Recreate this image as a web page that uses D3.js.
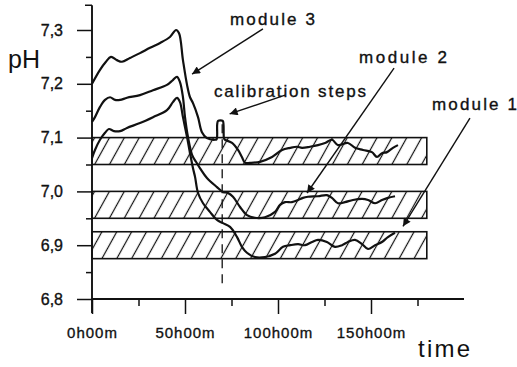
<!DOCTYPE html>
<html>
<head>
<meta charset="utf-8">
<script src="https://cdn.jsdelivr.net/npm/d3@7"></script>
<style>
  body { margin: 0; background: #fff; }
  svg { display: block; }
  text { font-family: "Liberation Sans", Arial, sans-serif; fill: #111; }
  .heavy { stroke: #111; stroke-width: 0.35px; }
</style>
</head>
<body>
<div id="chart"></div>
<script>
// time (h) / pH readings
const module3 = [
  [0, 7.200], [4.3, 7.226], [7.5, 7.241], [10.2, 7.250], [13.4, 7.244], [16.1, 7.241],
  [20.4, 7.248], [25.8, 7.257], [31.2, 7.267], [36.6, 7.276], [41.9, 7.287], [45.2, 7.300],
  [46.8, 7.294], [48.9, 7.244], [51.1, 7.198], [52.7, 7.175], [54.3, 7.164], [57.0, 7.138],
  [59.1, 7.110], [61.8, 7.099], [66.1, 7.096], [67.0, 7.097], [67.3, 7.124], [67.8, 7.131],
  [70.3, 7.131], [70.7, 7.124], [71.0, 7.098], [71.5, 7.096], [75.3, 7.090], [78.5, 7.077],
  [80.6, 7.064], [82.3, 7.053], [84.9, 7.053], [90.3, 7.055], [96.8, 7.064], [102.2, 7.077],
  [106.5, 7.081], [110.2, 7.083], [112.9, 7.081], [117.2, 7.083], [121.5, 7.086], [125.3, 7.090],
  [129.0, 7.096], [132.3, 7.086], [137.6, 7.090], [141.4, 7.081], [145.7, 7.077], [150.5, 7.073],
  [153.2, 7.064], [155.9, 7.071], [158.6, 7.073], [161.8, 7.081], [164.5, 7.086]
];
const module2 = [
  [0, 7.129], [1.6, 7.138], [4.3, 7.157], [7.0, 7.170], [9.7, 7.175], [12.4, 7.170],
  [15.1, 7.170], [18.8, 7.174], [25.8, 7.179], [32.8, 7.188], [40.3, 7.198], [43.5, 7.207],
  [45.7, 7.213], [47.3, 7.203], [48.9, 7.175], [50.0, 7.138], [51.6, 7.101], [53.8, 7.068],
  [55.9, 7.055], [58.1, 7.043], [61.8, 7.025], [67.2, 7.008], [70.4, 6.999], [73.1, 6.997],
  [75.8, 6.990], [79.6, 6.971], [83.3, 6.956], [87.6, 6.951], [93.0, 6.952], [98.4, 6.962],
  [101.1, 6.975], [103.8, 6.980], [107.5, 6.980], [110.8, 6.984], [113.4, 6.988], [116.1, 6.990],
  [121.5, 6.991], [126.3, 6.993], [129.0, 6.988], [132.3, 6.978], [136.0, 6.980], [140.3, 6.984],
  [145.2, 6.986], [148.4, 6.984], [152.2, 6.978], [155.9, 6.984], [159.1, 6.988], [162.9, 6.991]
];
const module1 = [
  [0, 7.062], [1.6, 7.077], [4.3, 7.096], [7.0, 7.109], [9.1, 7.116], [11.8, 7.112],
  [15.1, 7.112], [18.8, 7.118], [25.8, 7.127], [32.8, 7.138], [40.3, 7.151], [43.5, 7.166],
  [45.7, 7.174], [47.3, 7.166], [48.9, 7.138], [51.1, 7.101], [52.7, 7.071], [54.3, 7.043],
  [55.4, 7.027], [57.0, 6.997], [59.7, 6.978], [63.4, 6.962], [67.2, 6.947], [70.4, 6.941],
  [74.2, 6.934], [78.0, 6.915], [80.6, 6.897], [83.3, 6.886], [87.6, 6.878], [93.0, 6.878],
  [98.4, 6.884], [102.7, 6.897], [106.5, 6.900], [110.8, 6.902], [114.5, 6.900], [118.3, 6.906],
  [121.5, 6.910], [126.3, 6.906], [130.6, 6.897], [134.4, 6.900], [137.6, 6.906], [141.4, 6.910],
  [145.2, 6.902], [148.4, 6.893], [152.2, 6.900], [155.9, 6.906], [159.1, 6.915], [162.9, 6.923]
];

// target pH bands (low, high) and their time span
const bands = [[7.05, 7.10], [6.95, 7.00], [6.875, 6.925]];
const bandEnd = 180;
const calibTime = 70;

const yMajor = [6.8, 6.9, 7.0, 7.1, 7.2, 7.3];
const yMinor = [6.85, 6.95, 7.05, 7.15, 7.25];
const xMajor = [0, 50, 100, 150];
const xMinor = [25, 75, 125, 175];
const xLabels = ["0h00m", "50h00m", "100h00m", "150h00m"];

const width = 517, height = 367;

const svg = d3.select("#chart").append("svg")
  .attr("width", width)
  .attr("height", height);

const x = d3.scaleLinear().domain([0, 200]).range([92, 464]);
const y = d3.scaleLinear().domain([6.8, 7.3]).range([299, 30]);

const defs = svg.append("defs");
const hatch = defs.append("pattern")
  .attr("id", "hatch")
  .attr("patternUnits", "userSpaceOnUse")
  .attr("width", 13).attr("height", 13)
  .attr("patternTransform", "rotate(29)");
hatch.append("rect").attr("width", 13).attr("height", 13).attr("fill", "#fff");
hatch.append("line")
  .attr("x1", 6.5).attr("y1", 0).attr("x2", 6.5).attr("y2", 13)
  .attr("stroke", "#111").attr("stroke-width", 1.2);

defs.append("marker")
  .attr("id", "arrow")
  .attr("viewBox", "0 0 10 10")
  .attr("refX", 10).attr("refY", 5)
  .attr("markerWidth", 12).attr("markerHeight", 8)
  .attr("markerUnits", "userSpaceOnUse")
  .attr("orient", "auto")
  .append("path")
  .attr("d", "M0,0 L10,5 L0,10 Z")
  .attr("fill", "#111");

// bands
svg.append("g").selectAll("rect")
  .data(bands)
  .enter().append("rect")
  .attr("x", x(0))
  .attr("y", d => y(d[1]))
  .attr("width", x(bandEnd) - x(0))
  .attr("height", d => y(d[0]) - y(d[1]))
  .attr("fill", "url(#hatch)")
  .attr("stroke", "#111")
  .attr("stroke-width", 1.6);

// calibration marker
svg.append("line")
  .attr("x1", x(calibTime)).attr("x2", x(calibTime))
  .attr("y1", y(7.125)).attr("y2", y(6.82))
  .attr("stroke", "#111")
  .attr("stroke-width", 1.3)
  .attr("stroke-dasharray", "9,6");

// curves
const line = d3.line()
  .x(d => x(d[0]))
  .y(d => y(d[1]))
  .curve(d3.curveCatmullRom.alpha(0.5));

svg.append("g").selectAll("path")
  .data([module3, module2, module1])
  .enter().append("path")
  .attr("d", line)
  .attr("fill", "none")
  .attr("stroke", "#111")
  .attr("stroke-width", 2.2)
  .attr("stroke-linejoin", "round");

// axes
const fmt = d => d.toFixed(1).replace(".", ",");

const yAxis = svg.append("g")
  .attr("transform", `translate(${x(0)},0)`)
  .call(d3.axisLeft(y).tickValues(yMajor).tickSize(15).tickPadding(14).tickFormat(fmt));
yAxis.select(".domain").remove();
yAxis.selectAll("text").attr("class", "heavy").style("font-size", "16px").attr("font-family", null);

const yAxisMinor = svg.append("g")
  .attr("transform", `translate(${x(0)},0)`)
  .call(d3.axisLeft(y).tickValues(yMinor).tickSize(6).tickFormat(""));
yAxisMinor.select(".domain").remove();

const xAxis = svg.append("g")
  .attr("transform", `translate(0,${y(6.8)})`)
  .call(d3.axisBottom(x).tickValues(xMajor).tickSize(15).tickPadding(13)
    .tickFormat((d, i) => xLabels[i]));
xAxis.select(".domain").remove();
xAxis.selectAll("text")
  .attr("class", "heavy")
  .style("font-size", "15px")
  .style("letter-spacing", "1px")
  .attr("font-family", null);

const xAxisMinor = svg.append("g")
  .attr("transform", `translate(0,${y(6.8)})`)
  .call(d3.axisBottom(x).tickValues(xMinor).tickSize(7).tickFormat(""));
xAxisMinor.select(".domain").remove();

svg.selectAll(".tick line").attr("stroke", "#111").attr("stroke-width", 1.5);

svg.append("line")
  .attr("x1", x(0)).attr("x2", x(0))
  .attr("y1", y(7.346)).attr("y2", y(6.8) + 14)
  .attr("stroke", "#111").attr("stroke-width", 1.9);
svg.append("line")
  .attr("x1", x(0) - 7).attr("x2", x(0))
  .attr("y1", y(7.346)).attr("y2", y(7.346))
  .attr("stroke", "#111").attr("stroke-width", 1.5);
svg.append("line")
  .attr("x1", x(0)).attr("x2", x(200))
  .attr("y1", y(6.8)).attr("y2", y(6.8))
  .attr("stroke", "#111").attr("stroke-width", 1.9);

svg.append("text")
  .attr("x", 8).attr("y", 68)
  .style("font-size", "25px")
  .text("pH");

svg.append("text")
  .attr("x", 418).attr("y", 357)
  .style("font-size", "24px")
  .attr("textLength", 52)
  .text("time");

// annotations, placed in data units: label (t, pH), arrow from -> to
const notes = [
  { text: "module 3", at: [74.2, 7.309], w: 85, from: [91.9, 7.302], to: [53.8, 7.218] },
  { text: "calibration steps", at: [65.6, 7.175], w: 152, from: [103.8, 7.179], to: [74.0, 7.144] },
  { text: "module 2", at: [143.5, 7.239], w: 88, from: [162.4, 7.229], to: [115.6, 6.997] },
  { text: "module 1", at: [182.8, 7.151], w: 85, from: [203.2, 7.136], to: [167.2, 6.935] }
];

const ann = svg.append("g").selectAll("g")
  .data(notes)
  .enter().append("g");

ann.append("text")
  .attr("class", "heavy")
  .attr("x", d => x(d.at[0]))
  .attr("y", d => y(d.at[1]))
  .attr("textLength", d => d.w)
  .style("font-size", "17px")
  .text(d => d.text);

ann.append("line")
  .attr("x1", d => x(d.from[0])).attr("y1", d => y(d.from[1]))
  .attr("x2", d => x(d.to[0])).attr("y2", d => y(d.to[1]))
  .attr("stroke", "#111")
  .attr("stroke-width", 1.4)
  .attr("marker-end", "url(#arrow)");
</script>
</body>
</html>
